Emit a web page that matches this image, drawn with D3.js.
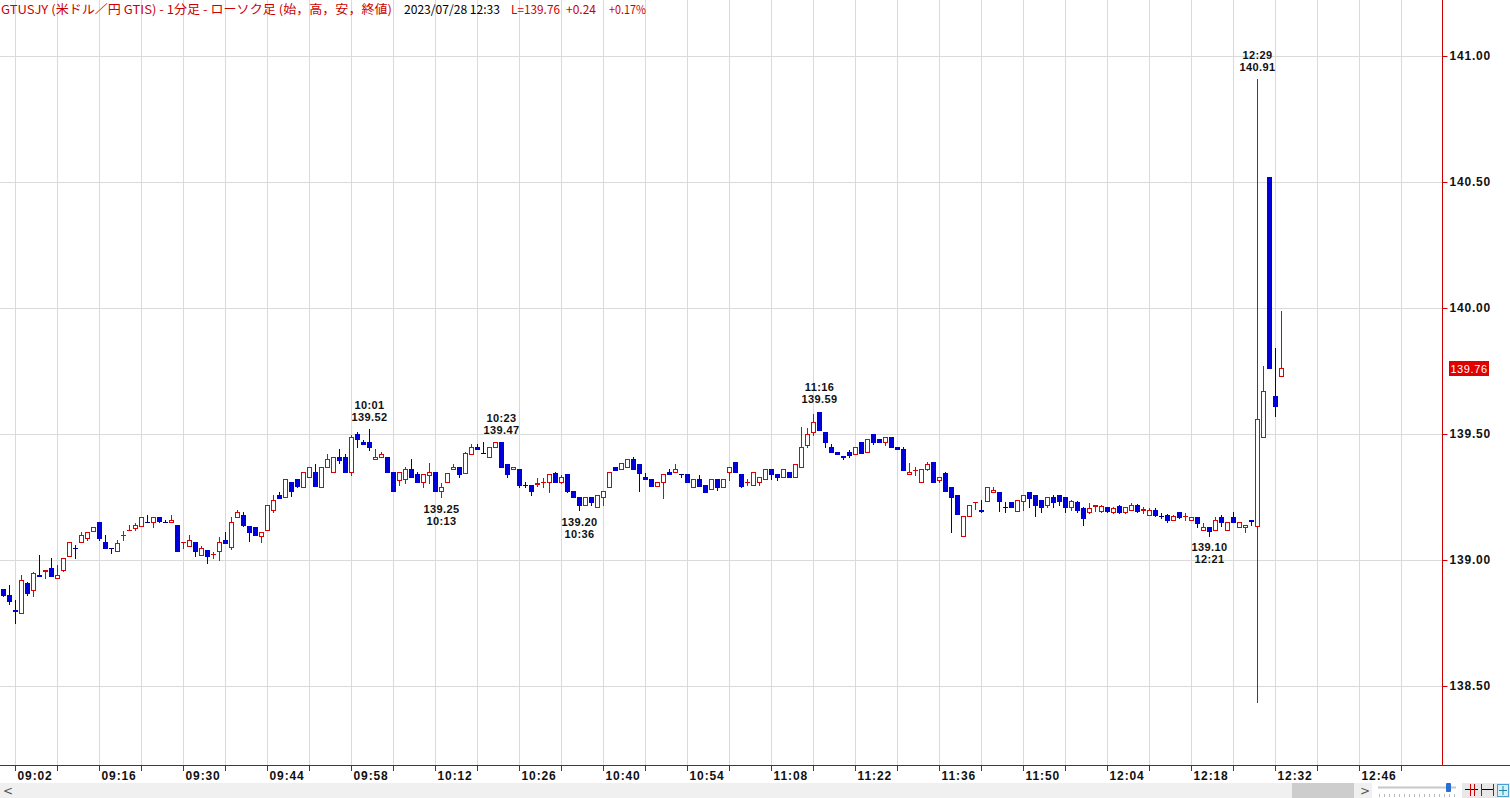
<!DOCTYPE html>
<html><head><meta charset="utf-8">
<script src="https://cdn.jsdelivr.net/npm/d3@7"></script>
<style>
html,body{margin:0;padding:0;background:#fff;overflow:hidden}
svg{display:block}
</style></head><body>
<svg id="c" width="1510" height="798"></svg>
<script>
// ---- data ----
const sessionDate = "2023-07-28";
const firstMinute = "09:00";
const lastMinute = "12:33";
const opens = [
138.883,138.861,138.800,138.788,138.907,138.881,138.941,138.957,138.967,138.927,
138.960,139.017,139.049,139.070,139.086,139.116,139.151,139.070,139.047,139.037,
139.099,139.118,139.128,139.136,139.150,139.149,139.169,139.150,139.149,139.139,
139.070,139.057,139.070,139.020,139.040,139.022,139.037,139.079,139.053,139.169,
139.179,139.136,139.130,139.097,139.119,139.198,139.258,139.249,139.310,139.320,
139.288,139.328,139.348,139.288,139.368,139.348,139.408,139.408,139.348,139.500,
139.470,139.467,139.400,139.408,139.408,139.348,139.317,139.320,139.360,139.341,
139.308,139.337,139.351,139.275,139.308,139.360,139.370,139.344,139.419,139.450,
139.424,139.408,139.447,139.467,139.381,139.360,139.360,139.299,139.298,139.303,
139.310,139.308,139.344,139.308,139.341,139.275,139.249,139.218,139.249,139.209,
139.249,139.288,139.368,139.360,139.368,139.400,139.381,139.331,139.320,139.295,
139.308,139.350,139.348,139.342,139.341,139.288,139.321,139.298,139.282,139.321,
139.288,139.348,139.388,139.341,139.310,139.298,139.308,139.321,139.361,139.341,
139.328,139.348,139.328,139.368,139.456,139.507,139.589,139.507,139.447,139.427,
139.411,139.430,139.421,139.470,139.428,139.500,139.480,139.467,139.490,139.447,
139.441,139.341,139.357,139.308,139.361,139.388,139.318,139.344,139.288,139.258,
139.097,139.176,139.229,139.197,139.235,139.269,139.271,139.210,139.229,139.196,
139.235,139.271,139.258,139.238,139.218,139.249,139.258,139.249,139.209,139.230,
139.205,139.190,139.215,139.195,139.210,139.190,139.215,139.190,139.200,139.220,
139.200,139.180,139.200,139.175,139.180,139.160,139.190,139.174,139.159,139.169,
139.119,139.130,139.119,139.172,139.119,139.169,139.130,139.130,139.157,139.136,
139.490,140.520,139.650,139.730];
const highs = [
138.886,138.901,138.841,138.940,138.914,138.954,139.020,138.958,139.006,138.980,
139.006,139.070,139.059,139.110,139.110,139.132,139.151,139.099,139.047,139.079,
139.116,139.139,139.148,139.169,139.178,139.169,139.170,139.158,139.178,139.139,
139.071,139.099,139.070,139.057,139.040,139.033,139.090,139.110,139.169,139.198,
139.189,139.136,139.130,139.110,139.218,139.258,139.271,139.320,139.310,139.320,
139.348,139.368,139.381,139.368,139.421,139.408,139.439,139.421,139.496,139.507,
139.476,139.520,139.439,139.428,139.408,139.348,139.348,139.368,139.400,139.348,
139.341,139.384,139.351,139.304,139.344,139.381,139.370,139.428,139.460,139.460,
139.467,139.447,139.467,139.470,139.381,139.368,139.360,139.310,139.298,139.324,
139.324,139.341,139.351,139.337,139.341,139.275,139.249,139.249,139.249,139.258,
139.275,139.351,139.371,139.384,139.400,139.408,139.381,139.344,139.320,139.311,
139.341,139.360,139.381,139.342,139.341,139.321,139.337,139.298,139.321,139.321,
139.321,139.368,139.388,139.341,139.321,139.348,139.328,139.361,139.361,139.341,
139.361,139.348,139.381,139.529,139.522,139.579,139.589,139.507,139.460,139.427,
139.411,139.437,139.450,139.470,139.480,139.500,139.480,139.490,139.490,139.447,
139.447,139.384,139.371,139.361,139.388,139.388,139.328,139.351,139.288,139.258,
139.176,139.218,139.231,139.238,139.288,139.291,139.271,139.232,139.229,139.238,
139.258,139.271,139.258,139.238,139.249,139.258,139.258,139.249,139.238,139.235,
139.210,139.225,139.217,139.218,139.212,139.210,139.218,139.212,139.225,139.222,
139.210,139.205,139.205,139.185,139.182,139.178,139.192,139.185,139.172,139.169,
139.148,139.130,139.172,139.178,139.152,139.190,139.152,139.139,139.157,140.910,
139.770,140.520,139.840,139.990];
const lows = [
138.858,138.825,138.749,138.788,138.861,138.857,138.937,138.927,138.938,138.927,
138.955,139.017,139.006,139.070,139.079,139.114,139.079,139.046,139.026,139.037,
139.079,139.118,139.119,139.133,139.149,139.130,139.149,139.149,139.149,139.037,
139.046,139.057,139.017,139.020,138.987,139.007,139.000,139.069,139.044,139.169,
139.136,139.077,139.099,139.070,139.119,139.192,139.248,139.249,139.255,139.288,
139.288,139.328,139.295,139.288,139.368,139.348,139.386,139.348,139.337,139.447,
139.459,139.437,139.400,139.408,139.348,139.275,139.298,139.304,139.328,139.308,
139.288,139.304,139.275,139.249,139.308,139.360,139.328,139.344,139.419,139.439,
139.423,139.408,139.447,139.368,139.328,139.360,139.291,139.288,139.258,139.295,
139.291,139.269,139.308,139.304,139.269,139.249,139.198,139.218,139.218,139.209,
139.218,139.288,139.357,139.360,139.368,139.360,139.275,139.320,139.295,139.295,
139.247,139.341,139.348,139.328,139.308,139.288,139.295,139.269,139.282,139.278,
139.288,139.317,139.348,139.288,139.298,139.298,139.298,139.321,139.321,139.317,
139.328,139.328,139.328,139.368,139.447,139.496,139.516,139.447,139.427,139.419,
139.401,139.407,139.421,139.423,139.428,139.460,139.467,139.457,139.447,139.439,
139.357,139.341,139.337,139.308,139.357,139.308,139.308,139.275,139.110,139.183,
139.097,139.176,139.202,139.189,139.235,139.269,139.196,139.189,139.209,139.196,
139.198,139.209,139.176,139.189,139.209,139.209,139.218,139.189,139.200,139.190,
139.140,139.185,139.195,139.190,139.190,139.185,139.185,139.188,139.200,139.190,
139.185,139.178,139.175,139.165,139.150,139.158,139.165,139.158,139.159,139.130,
139.119,139.097,139.119,139.136,139.119,139.150,139.130,139.110,139.139,138.435,
139.490,139.760,139.570,139.730];
const closes = [
138.861,138.839,138.797,138.921,138.868,138.947,138.938,138.959,138.938,138.940,
139.006,139.070,139.047,139.100,139.110,139.130,139.089,139.046,139.046,139.069,
139.100,139.119,139.139,139.169,139.149,139.169,139.156,139.149,139.159,139.037,
139.071,139.079,139.037,139.046,139.017,139.024,139.070,139.069,139.149,139.189,
139.139,139.110,139.099,139.110,139.218,139.238,139.248,139.320,139.275,139.295,
139.348,139.368,139.295,139.368,139.400,139.408,139.397,139.348,139.487,139.480,
139.459,139.447,139.408,139.421,139.348,139.275,139.348,139.360,139.328,139.308,
139.341,139.348,139.275,139.291,139.344,139.370,139.341,139.423,139.450,139.439,
139.423,139.447,139.467,139.368,139.341,139.368,139.298,139.297,139.275,139.305,
139.311,139.341,139.308,139.328,139.275,139.249,139.218,139.249,139.229,139.258,
139.275,139.351,139.357,139.384,139.400,139.360,139.344,139.320,139.295,139.311,
139.341,139.341,139.361,139.341,139.308,139.321,139.295,139.269,139.321,139.288,
139.321,139.368,139.348,139.295,139.311,139.348,139.328,139.361,139.341,139.328,
139.361,139.328,139.381,139.447,139.500,139.546,139.516,139.467,139.427,139.419,
139.410,139.417,139.447,139.423,139.480,139.467,139.467,139.490,139.447,139.439,
139.357,139.351,139.358,139.361,139.381,139.308,139.328,139.275,139.249,139.183,
139.176,139.218,139.231,139.196,139.288,139.278,139.235,139.209,139.209,139.238,
139.258,139.245,139.218,139.209,139.249,139.229,139.235,139.209,139.235,139.200,
139.165,139.205,139.217,139.215,139.195,139.205,139.190,139.210,139.220,139.195,
139.201,139.200,139.180,139.174,139.160,139.175,139.170,139.175,139.172,139.148,
139.132,139.117,139.159,139.150,139.152,139.150,139.152,139.139,139.155,139.560,
139.670,139.760,139.610,139.760];
const priceTicks = [138.5, 139.0, 139.5, 140.0, 140.5, 141.0];
const timeTickLabels = ["09:02","09:16","09:30","09:44","09:58","10:12","10:26","10:40",
  "10:54","11:08","11:22","11:36","11:50","12:04","12:18","12:32","12:46"];
const markTimes  = ["10:01","10:13","10:23","10:36","11:16","12:21","12:29"];
const markPrices = [139.52, 139.25, 139.47, 139.20, 139.59, 139.10, 140.91];
const markSides  = ["high","low","high","low","high","low","high"];
const lastPrice = 139.76;

// ---- setup ----
const parse = d3.timeParse("%Y-%m-%d %H:%M");
const at = s => parse(sessionDate + " " + s);
const times = d3.timeMinute.range(at(firstMinute), d3.timeMinute.offset(at(lastMinute), 1));
const data = times.map((t, i) => ({t, o: opens[i], h: highs[i], l: lows[i], c: closes[i]}));

const W = 1510, H = 798;
const plotRight = 1442, plotBottom = 765;
const UPCOL = "#e00000", BLUE = "#0000dc", NAVY = "#000080", GRID = "#dadada", AXRED = "#cc0000";

const x = d3.scaleTime().domain([at("09:00"), at("13:00")]).range([3, 1443]);
const y = d3.scaleLinear().domain([138.5, 141.0]).range([686, 56]);
const cx = t => Math.round(x(t)) + 0.5;   // crisp pixel centre

const svg = d3.select("#c");
svg.append("rect").attr("width", W).attr("height", H).attr("fill", "#fff");

// grid
const gridTimes = d3.range(0, 34).map(k => d3.timeMinute.offset(at("09:02"), 7 * k));
const gridG = svg.append("g").attr("shape-rendering", "crispEdges");
gridG.selectAll("line.v").data(gridTimes).join("line").attr("class", "v")
  .attr("x1", d => cx(d)).attr("x2", d => cx(d))
  .attr("y1", 0).attr("y2", plotBottom)
  .style("stroke", GRID);
gridG.selectAll("line.h").data(priceTicks).join("line").attr("class", "h")
  .attr("x1", 0).attr("x2", plotRight)
  .attr("y1", d => Math.round(y(d)) + 0.5).attr("y2", d => Math.round(y(d)) + 0.5)
  .style("stroke", GRID);

// title
const title = svg.append("text").attr("y", 14).attr("font-size", 12)
  .attr("font-family", "'Noto Sans CJK JP', sans-serif");
title.append("tspan").attr("x", 1).attr("fill", AXRED)
  .attr("textLength", 391).attr("lengthAdjust", "spacingAndGlyphs")
  .text("GTUSJY (米ドル／円 GTIS) - 1分足 - ローソク足 (始，高，安，終値)");
title.append("tspan").attr("x", 404).attr("fill", "#000")
  .attr("textLength", 96).attr("lengthAdjust", "spacingAndGlyphs")
  .text("2023/07/28 12:33");
title.append("tspan").attr("x", 511).attr("fill", AXRED)
  .attr("textLength", 49).attr("lengthAdjust", "spacingAndGlyphs")
  .text("L=" + lastPrice.toFixed(2));
title.append("tspan").attr("x", 566).attr("fill", AXRED)
  .attr("textLength", 30).attr("lengthAdjust", "spacingAndGlyphs")
  .text("+0.24");
title.append("tspan").attr("x", 609).attr("fill", AXRED)
  .attr("textLength", 37).attr("lengthAdjust", "spacingAndGlyphs")
  .text("+0.17%");

// candles: one group per candle
const isUp = d => d.c >= d.o;
const isDoji = d => Math.abs(Math.round(y(d.o)) - Math.round(y(d.c))) < 1;
const cg = svg.append("g").attr("shape-rendering", "crispEdges");
const candle = cg.selectAll("g.candle").data(data).join("g").attr("class", "candle");
candle.append("line")
  .attr("x1", d => cx(d.t)).attr("x2", d => cx(d.t))
  .attr("y1", d => Math.round(y(d.h))).attr("y2", d => Math.round(y(d.l)) + 1)
  .style("stroke", d => isUp(d) ? UPCOL : NAVY).style("stroke-width", "1px");
candle.filter(d => !isDoji(d) && isUp(d)).append("rect")
  .attr("x", d => cx(d.t) - 2).attr("width", 4)
  .attr("y", d => Math.round(y(d.c)) + 0.5)
  .attr("height", d => Math.round(y(d.o)) - Math.round(y(d.c)))
  .style("fill", "#ffffff").style("stroke", UPCOL).style("stroke-width", "1px");
candle.filter(d => !isDoji(d) && !isUp(d)).append("rect")
  .attr("x", d => cx(d.t) - 2.5).attr("width", 5)
  .attr("y", d => Math.round(y(d.o)))
  .attr("height", d => Math.round(y(d.c)) - Math.round(y(d.o)) + 1)
  .style("fill", BLUE);
candle.filter(isDoji).append("line")
  .attr("x1", d => cx(d.t) - 2.5).attr("x2", d => cx(d.t) + 2.5)
  .attr("y1", d => Math.round(y(d.c)) + 0.5).attr("y2", d => Math.round(y(d.c)) + 0.5)
  .style("stroke", d => isUp(d) ? UPCOL : NAVY);

// high / low marks
const marks = markTimes.map((s, i) => ({t: at(s), s, p: markPrices[i], side: markSides[i]}));
const mg = svg.append("g").attr("font-family", "'Liberation Sans', Arial, sans-serif")
  .attr("font-size", 11).attr("font-weight", "bold").attr("fill", "#111")
  .attr("text-anchor", "middle").attr("letter-spacing", 0.4);
marks.forEach(m => {
  const yy = y(m.p);
  const first = m.side === "high" ? m.s : m.p.toFixed(2);
  const second = m.side === "high" ? m.p.toFixed(2) : m.s;
  const y1 = m.side === "high" ? yy - 24 : yy + 12;
  mg.append("text").attr("x", cx(m.t)).attr("y", y1 + 4).text(first);
  mg.append("text").attr("x", cx(m.t)).attr("y", y1 + 16).text(second);
});

// right axis
const yAxis = d3.axisRight(y).tickValues(priceTicks).tickFormat(d3.format(".2f")).tickSize(5).tickSizeOuter(0);
const ya = svg.append("g").attr("transform", `translate(${plotRight + 0.5},0)`).call(yAxis);
ya.select(".domain").remove();
ya.selectAll(".tick line").attr("stroke", AXRED);
ya.selectAll(".tick text").attr("x", 7).attr("fill", "#111")
  .attr("font-family", "'Liberation Sans', Arial, sans-serif")
  .attr("font-size", 12).attr("font-weight", "bold").attr("letter-spacing", 0.8);
svg.append("line").attr("x1", plotRight + 0.5).attr("x2", plotRight + 0.5)
  .attr("y1", 0).attr("y2", plotBottom).attr("stroke", AXRED).attr("shape-rendering", "crispEdges");

// last price box
const ly = y(lastPrice);
svg.append("rect").attr("x", 1449).attr("y", Math.round(ly) - 7).attr("width", 40).attr("height", 15).attr("fill", "#e00000");
svg.append("text").attr("x", 1469).attr("y", Math.round(ly) + 4.5).attr("text-anchor", "middle")
  .attr("fill", "#fff").attr("font-family", "'Liberation Sans', Arial, sans-serif")
  .attr("font-size", 11).attr("letter-spacing", 0.6).text(lastPrice.toFixed(2));

// bottom axis
const fmt = d3.timeFormat("%H:%M");
const xAxis = d3.axisBottom(x).tickValues(gridTimes)
  .tickFormat(d => timeTickLabels.includes(fmt(d)) ? fmt(d) : "").tickSize(5).tickSizeOuter(0);
const xa = svg.append("g").attr("transform", `translate(0,${plotBottom + 0.5})`).call(xAxis);
xa.select(".domain").remove();
xa.selectAll(".tick").attr("transform", d => `translate(${cx(d)},0)`);
xa.selectAll(".tick line").attr("stroke", AXRED).attr("shape-rendering", "crispEdges");
xa.selectAll(".tick text").attr("text-anchor", "start").attr("x", 2).attr("y", 6).attr("dy", "0.71em")
  .attr("fill", "#111").attr("font-family", "'Liberation Sans', Arial, sans-serif")
  .attr("font-size", 12).attr("font-weight", "bold").attr("letter-spacing", 0.9);
svg.append("line").attr("x1", 0).attr("x2", W).attr("y1", plotBottom + 0.5).attr("y2", plotBottom + 0.5)
  .attr("stroke", AXRED).attr("shape-rendering", "crispEdges");

// scroll bar
const sb = svg.append("g");
sb.append("rect").attr("x", 0).attr("y", 783).attr("width", 1372).attr("height", 15).attr("fill", "#f0f0f0");
sb.append("rect").attr("x", 1292).attr("y", 783).attr("width", 62).attr("height", 15).attr("fill", "#cdcdcd");
sb.append("text").attr("x", 3).attr("y", 795).attr("font-size", 12).attr("fill", "#555")
  .attr("font-family", "'DejaVu Sans', sans-serif").text("<");
sb.append("text").attr("x", 1360).attr("y", 795).attr("font-size", 12).attr("fill", "#555")
  .attr("font-family", "'DejaVu Sans', sans-serif").text(">");
sb.append("line").attr("x1", 1378).attr("x2", 1456).attr("y1", 787.5).attr("y2", 787.5).attr("stroke", "#c8c8c8").attr("stroke-width", 2);
sb.selectAll("line.tk").data(d3.range(1379, 1456, 5)).join("line").attr("class", "tk")
  .attr("x1", d => d + 0.5).attr("x2", d => d + 0.5).attr("y1", 794).attr("y2", 797).attr("stroke", "#bbb");
sb.append("rect").attr("x", 1446).attr("y", 783).attr("width", 5).attr("height", 9).attr("rx", 1).attr("fill", "#2a6fcf");
sb.append("rect").attr("x", 1462).attr("y", 783).attr("width", 48).attr("height", 15).attr("fill", "#e8e8e8");
const ic = sb.append("g").attr("stroke-width", 1);
ic.append("line").attr("x1", 1465).attr("x2", 1478).attr("y1", 789.5).attr("y2", 789.5).attr("stroke", "#000");
ic.append("line").attr("x1", 1470.5).attr("x2", 1470.5).attr("y1", 784).attr("y2", 796).attr("stroke", "#c00");
ic.append("line").attr("x1", 1474.5).attr("x2", 1474.5).attr("y1", 784).attr("y2", 796).attr("stroke", "#c00");
ic.append("line").attr("x1", 1481).attr("x2", 1494).attr("y1", 789.5).attr("y2", 789.5).attr("stroke", "#000");
ic.append("line").attr("x1", 1481.5).attr("x2", 1481.5).attr("y1", 784).attr("y2", 796).attr("stroke", "#c00");
ic.append("line").attr("x1", 1493.5).attr("x2", 1493.5).attr("y1", 784).attr("y2", 796).attr("stroke", "#c00");
ic.append("rect").attr("x", 1497.5).attr("y", 784.5).attr("width", 11).attr("height", 12).attr("fill", "#d8eef8").attr("stroke", "#4a9fd0");
ic.append("line").attr("x1", 1503).attr("x2", 1503).attr("y1", 786).attr("y2", 795).attr("stroke", "#1a8aa0");
ic.append("line").attr("x1", 1499).attr("x2", 1507).attr("y1", 790.5).attr("y2", 790.5).attr("stroke", "#1a8aa0");
</script>
</body></html>
